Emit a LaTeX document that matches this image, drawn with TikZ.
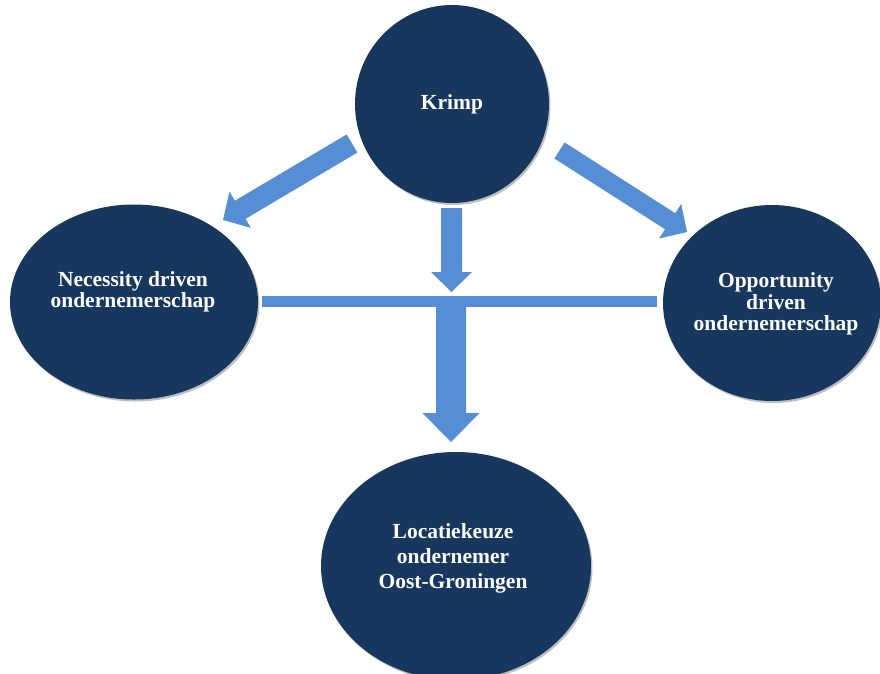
\documentclass[tikz,border=0pt]{standalone}
\usepackage{fontspec}
\setmainfont{Liberation Serif}
\usetikzlibrary{shapes.geometric,calc,shadows}
\definecolor{navy}{RGB}{23,55,94}
\definecolor{arrowblue}{RGB}{85,142,213}
\newcommand\myblockarrow[5]{% tail, tip, shaft half width, head half width, head length
  \path ($(#2)!#5!(#1)$) coordinate (hb);
  \fill[arrowblue] ($(#1)!#3!90:(#2)$) -- ($(hb)!#3!90:(#2)$) -- ($(hb)!#4!90:(#2)$)
    -- (#2) -- ($(hb)!#4!-90:(#2)$) -- ($(hb)!#3!-90:(#2)$) -- ($(#1)!#3!-90:(#2)$) -- cycle;
}
\tikzset{
  bubble/.style={ellipse, fill=navy, draw=none, inner sep=0pt,
    drop shadow={shadow xshift=1.5pt, shadow yshift=-2pt, opacity=0.25, fill=black}},
  label text/.style={text=white, font=\bfseries\fontsize{21.5}{21.5}\selectfont, align=center, inner sep=0pt},
}
\begin{document}
\begin{tikzpicture}[x=1pt,y=-1pt]
\useasboundingbox (0,0) rectangle (880,673);
\clip (0,0) rectangle (880,673);
\fill[white] (0,0) rectangle (880,673);
% ellipses
\node[bubble, minimum width=194pt, minimum height=198pt] (krimp) at (452,104) {};
\node[bubble, minimum width=248pt, minimum height=195pt] (nec) at (134,302) {};
\node[bubble, minimum width=218pt, minimum height=196pt] (opp) at (772,303) {};
\node[bubble, minimum width=270pt, minimum height=228pt] (loc) at (456,566) {};
% texts
\node[label text] (krimpt) at (452,104) {Krimp};
\node[label text] (nect) at (133,292) {Necessity driven\\ondernemerschap};
\node[label text] (oppt) at (776,304) {Opportunity\\driven\\ondernemerschap};
\node[label text, font=\bfseries\fontsize{21.5}{25}\selectfont] (loct) at (453,558) {Locatiekeuze\\ondernemer\\Oost-Groningen};
% arrow coordinates
\coordinate (ltail) at (352,143.5);
\coordinate (ltip) at (223,220);
\coordinate (rtail) at (559.5,150.5);
\coordinate (rtip) at (687,232);
\coordinate (dtail) at (451.5,208);
\coordinate (dtip) at (451.5,292);
\coordinate (btail) at (451,296);
\coordinate (btip) at (451,442);
\coordinate (barl) at (262,301.5);
\coordinate (barr) at (657,301.5);
% connectors
\draw[arrowblue, line width=11pt] (barl) -- (barr);
\myblockarrow{ltail}{ltip}{10.5pt}{21pt}{20pt}
\myblockarrow{rtail}{rtip}{9.5pt}{20.5pt}{20pt}
\myblockarrow{dtail}{dtip}{10.5pt}{20.5pt}{20pt}
\myblockarrow{btail}{btip}{15pt}{28.5pt}{29pt}
\end{tikzpicture}
\end{document}
